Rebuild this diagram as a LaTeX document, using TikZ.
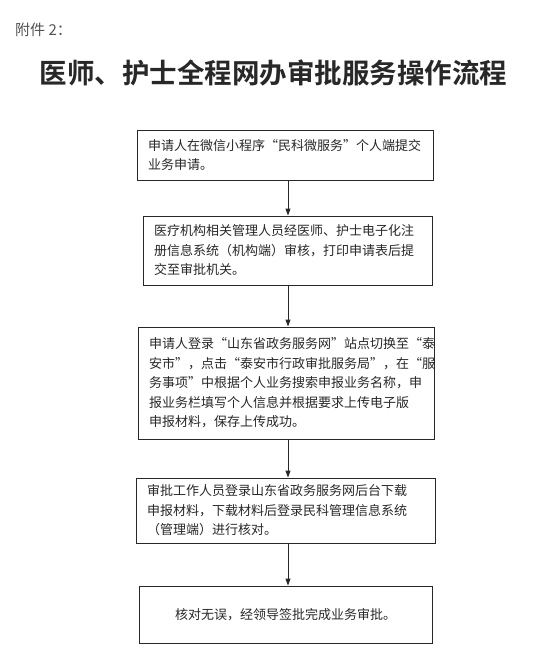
\documentclass[tikz,border=0pt]{standalone}
\usepackage{fontspec}
\usetikzlibrary{arrows.meta}
\newfontfamily\cjk[BoldFont={Noto Sans CJK SC Bold}]{Noto Sans CJK SC}
\definecolor{ink}{RGB}{40,40,40}
\tikzset{
  flowbox/.style={draw=ink, line width=0.9pt, rectangle, inner xsep=11pt, inner ysep=0pt,
    font=\cjk\fontsize{13}{19.5}\selectfont, text=ink, align=left},
  flowarrow/.style={draw=ink, line width=0.9pt, -{Triangle[length=7pt,width=5pt]}}
}
\begin{document}
\begin{tikzpicture}[x=1pt,y=-1pt]
\useasboundingbox[fill=white] (0,0) rectangle (535,664);
\node[font=\cjk\fontsize{15}{18}\selectfont, text=ink!80, anchor=west, inner sep=0pt] (att) at (15,30) {附件 2：};
\node[font=\cjk\bfseries\fontsize{27.5}{30}\selectfont, text=ink, inner sep=0pt] (title) at (273.5,72.5) {医师、护士全程网办审批服务操作流程};

\node[flowbox, text width=274pt, minimum height=50pt] (b1) at (285,155)
  {申请人在微信小程序“民科微服务”个人端提交\\业务申请。};
\node[flowbox, text width=267pt, minimum height=69pt] (b2) at (287.5,250.5)
  {医疗机构相关管理人员经医师、护士电子化注\\册信息系统（机构端）审核，打印申请表后提\\交至审批机关。};
\node[flowbox, text width=274pt, minimum height=112pt] (b3) at (286,383)
  {申请人登录“山东省政务服务网”站点切换至“泰\\安市”，点击“泰安市行政审批服务局”，在“服\\务事项”中根据个人业务搜索申报业务名称，申\\报业务栏填写个人信息并根据要求上传电子版\\申报材料，保存上传成功。};
\node[flowbox, text width=277pt, minimum height=65pt] (b4) at (285.5,510.5)
  {审批工作人员登录山东省政务服务网后台下载\\申报材料，下载材料后登录民科管理信息系统\\（管理端）进行核对。};
\node[flowbox, align=center, text width=271pt, minimum height=57pt] (b5) at (285.5,614.5)
  {核对无误，经领导签批完成业务审批。};

\coordinate (ax) at (288,0);
\draw[flowarrow] (b1.south -| ax) -- (b2.north -| ax);
\draw[flowarrow] (b2.south -| ax) -- (b3.north -| ax);
\draw[flowarrow] (b3.south -| ax) -- (b4.north -| ax);
\draw[flowarrow] (b4.south -| ax) -- (b5.north -| ax);
\end{tikzpicture}
\end{document}
